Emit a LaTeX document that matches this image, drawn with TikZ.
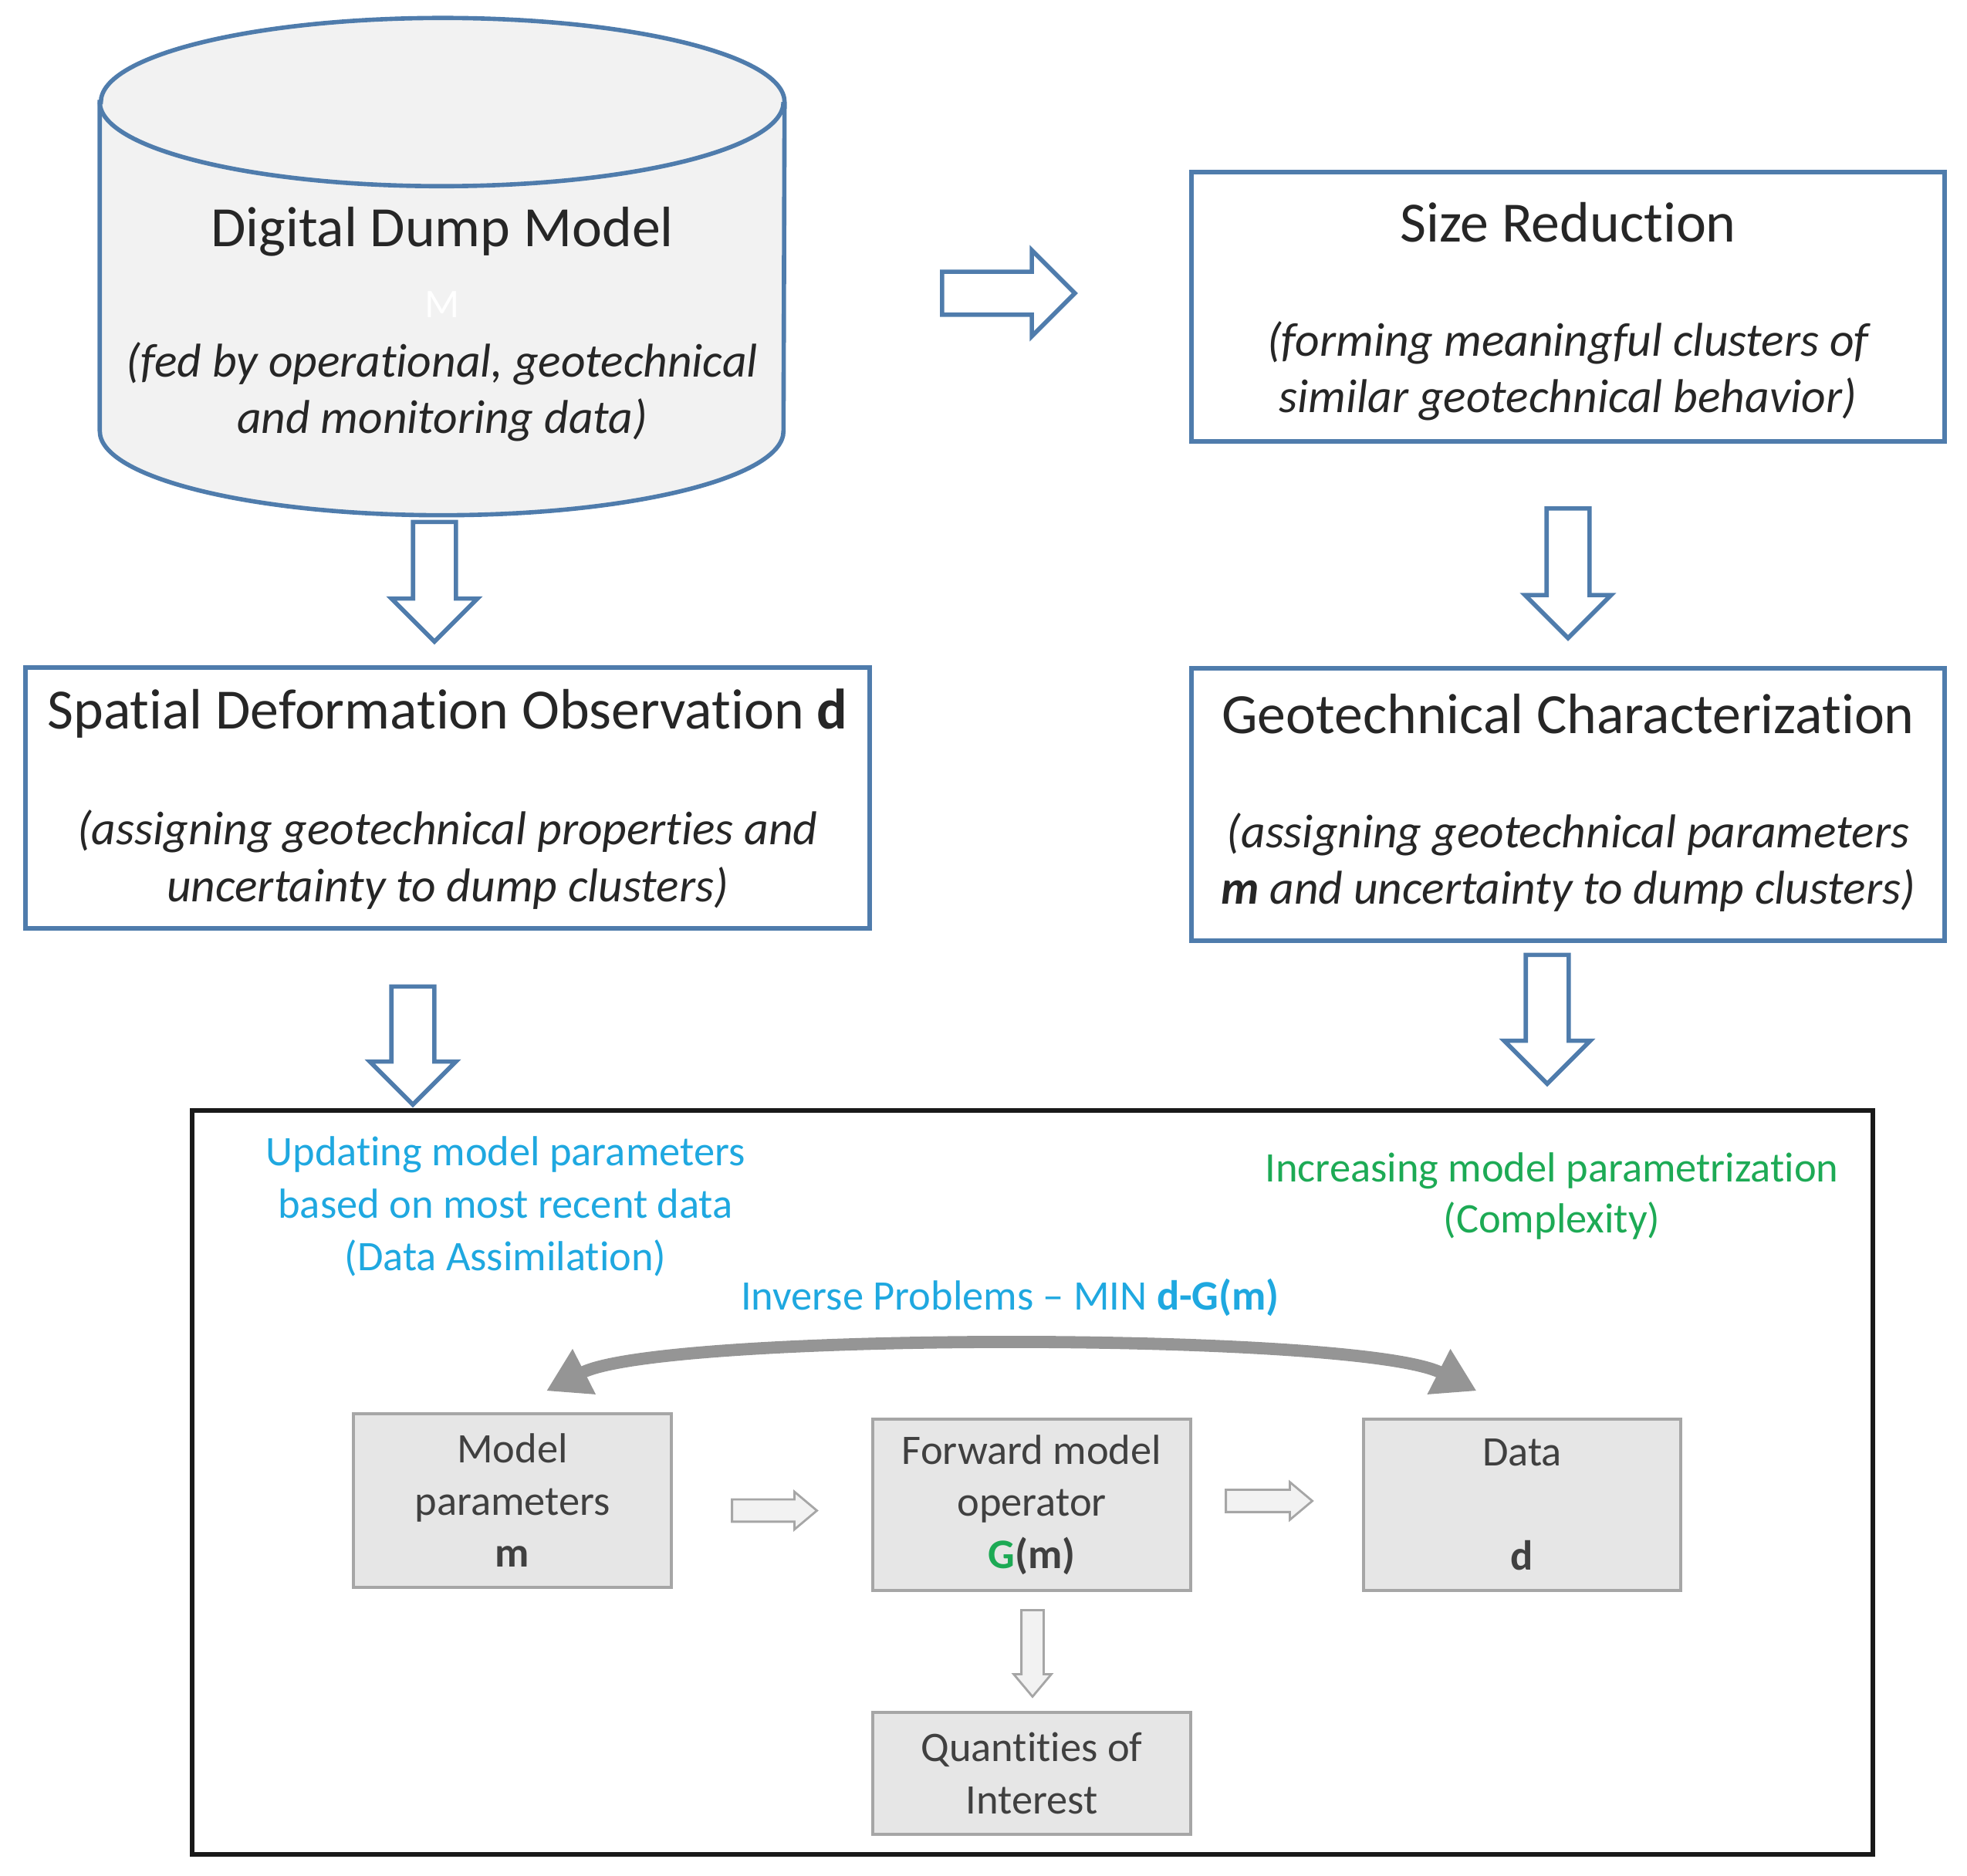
\documentclass[tikz,border=0pt]{standalone}
\usepackage{fontspec}
\setmainfont[Ligatures=NoCommon]{Carlito}
\usetikzlibrary{arrows.meta,positioning,calc,shapes.arrows}
\definecolor{ink}{HTML}{262626}
\definecolor{muted}{HTML}{404040}
\definecolor{frameblue}{HTML}{4F7CAC}
\definecolor{cylfill}{HTML}{F2F2F2}
\definecolor{sky}{HTML}{1FA8E0}
\definecolor{leaf}{HTML}{1DAA55}
\definecolor{boxgray}{HTML}{E6E6E6}
\definecolor{boxline}{HTML}{A6A6A6}
\definecolor{curve}{HTML}{959595}
\tikzset{
  stagebox/.style={draw=frameblue, fill=white, line width=1.6pt},
  cylline/.style={draw=frameblue, line width=1.6pt},
  blockarrow/.style={single arrow, draw=frameblue, fill=white, line width=1.6pt,
                     inner xsep=0pt, inner ysep=2.5mm, single arrow head extend=2.8mm,
                     single arrow tip angle=90},
  graybox/.style={draw=boxline, fill=boxgray, line width=0.9pt},
  grayarrow/.style={single arrow, draw=boxline, fill=cylfill, line width=0.8pt,
                    inner xsep=0pt, inner ysep=1.3mm, single arrow head extend=1mm,
                    single arrow tip angle=80},
  title/.style={font=\fontsize{21}{25}\selectfont, text=ink},
  note/.style={font=\fontsize{17.5}{20.8}\selectfont\itshape, text=ink, align=center},
  boxtext/.style={font=\fontsize{15.5}{19.2}\selectfont, text=muted, align=center},
  skytext/.style={font=\fontsize{15.5}{19.3}\selectfont, text=sky, align=center},
  leaftext/.style={font=\fontsize{15.5}{18.9}\selectfont, text=leaf, align=center},
  inverse/.style={draw=curve, line width=4.5pt,
                  arrows={Triangle[length=5.5mm,width=6.2mm]-Triangle[length=5.5mm,width=6.2mm]}},
}

\begin{document}
\begin{tikzpicture}[x=1cm,y=1cm]
\useasboundingbox (0,0) rectangle (25.49,24.31);

% Digital dump model --------------------------------------------------------
\node[minimum width=8.86cm, minimum height=6.43cm, inner sep=0pt] (dump) at (5.73,20.855) {};
\draw[cylline, fill=cylfill] ([yshift=-1.09cm]dump.north west) -- ([yshift=1.09cm]dump.south west)
  arc[start angle=180, end angle=360, x radius=4.43cm, y radius=1.09cm]
  -- ([yshift=-1.09cm]dump.north east)
  arc[start angle=0, end angle=180, x radius=4.43cm, y radius=1.09cm] -- cycle;
\draw[cylline] ([yshift=-1.09cm]dump.north west)
  arc[start angle=180, end angle=360, x radius=4.43cm, y radius=1.09cm];
\node[title] (dumptitle) at ($(dump.center)+(0,0.45)$) {Digital Dump Model};
\node[font=\fontsize{15}{18}\selectfont, text=white] (dumpm) at ($(dump.center)+(0,-0.495)$) {M};
\node[note] (dumpnote) at ($(dump.center)+(0,-1.62)$) {(fed by operational, geotechnical\\and monitoring data)};

% Size reduction --------------------------------------------------------------
\node[stagebox, minimum width=9.76cm, minimum height=3.49cm] (sizered) at (20.32,20.335) {};
\node[title] (sizetitle) at ($(sizered.center)+(0,1.09)$) {Size Reduction};
\node[note] (sizenote) at ($(sizered.center)+(0,-0.83)$) {(forming meaningful clusters of\\similar geotechnical behavior)};

% Spatial deformation observation ---------------------------------------------
\node[stagebox, minimum width=10.94cm, minimum height=3.38cm] (spatial) at (5.80,13.97) {};
\node[title] (spatialtitle) at ($(spatial.center)+(0,1.09)$) {Spatial Deformation Observation \textbf{d}};
\node[note] (spatialnote) at ($(spatial.center)+(0,-0.80)$) {(assigning geotechnical properties and\\uncertainty to dump clusters)};

% Geotechnical characterization -----------------------------------------------
\node[stagebox, minimum width=9.76cm, minimum height=3.53cm] (geotech) at (20.32,13.885) {};
\node[title] (geotitle) at ($(geotech.center)+(0,1.17)$) {Geotechnical Characterization};
\node[note] (geonote) at ($(geotech.center)+(0,-0.75)$) {(assigning geotechnical parameters\\\textbf{m} and uncertainty to dump clusters)};

% Block arrows between the stages
\node[blockarrow, minimum height=1.72cm, minimum width=1.10cm] (tosize) at (12.93,20.51) {};
\node[blockarrow, rotate=-90, minimum height=1.55cm, minimum width=1.06cm] (dumpdown) at (5.63,16.91) {};
\node[blockarrow, rotate=-90, minimum height=1.68cm, minimum width=1.10cm] (sizedown) at (20.32,17.02) {};

% Inverse problem frame -------------------------------------------------------
\node[draw=black!90, line width=1.7pt, minimum width=21.78cm, minimum height=9.64cm] (frame) at (13.38,5.10) {};

\node[blockarrow, rotate=-90, minimum height=1.53cm, minimum width=1.07cm] (spatialdown) at (5.35,10.90) {};
\node[blockarrow, rotate=-90, minimum height=1.67cm, minimum width=1.09cm] (geodown) at (20.05,11.24) {};

\node[skytext] (assim) at (6.55,8.675) {Updating model parameters\\based on most recent data\\(Data Assimilation)};
\node[leaftext] (complexity) at (20.11,8.81) {Increasing model parametrization\\(Complexity)};
\node[skytext] (invlabel) at (13.09,7.50) {Inverse Problems -- MIN \textbf{d-G(m)}};

\node[graybox, minimum width=4.12cm, minimum height=2.25cm] (model) at (6.64,4.865) {};
\node[boxtext] (modeltext) at (model.center) {Model\\parameters\\\textbf{m}};

\node[graybox, minimum width=4.12cm, minimum height=2.22cm] (forward) at (13.37,4.81) {};
\node[boxtext] (forwardtext) at (forward.center) {Forward model\\operator\\\textbf{\textcolor{leaf}{G}(m)}};

\node[graybox, minimum width=4.11cm, minimum height=2.22cm] (data) at (19.725,4.81) {};
\node[boxtext] (datatext) at (data.center) {Data\\\mbox{}\\\textbf{d}};

\node[graybox, minimum width=4.12cm, minimum height=1.58cm] (qoi) at (13.37,1.33) {};
\node[boxtext] (qoitext) at (qoi.center) {Quantities of\\Interest};

\node[grayarrow, minimum height=1.10cm, minimum width=0.45cm] (mtog) at (9.95,4.735) {};
\node[grayarrow, minimum height=1.12cm, minimum width=0.44cm] (gtod) at (16.36,4.86) {};
\node[grayarrow, rotate=-90, minimum height=1.12cm, minimum width=0.48cm] (gtoq) at (13.38,2.97) {};

% Inverse / forward loop
\coordinate (invl) at ([xshift=4.4mm,yshift=2.8mm]model.north);
\coordinate (invr) at ([xshift=-5.9mm,yshift=3.5mm]data.north);
\draw[inverse] (invl) to[out=27,in=153,looseness=0.36] (invr);

\end{tikzpicture}
\end{document}
